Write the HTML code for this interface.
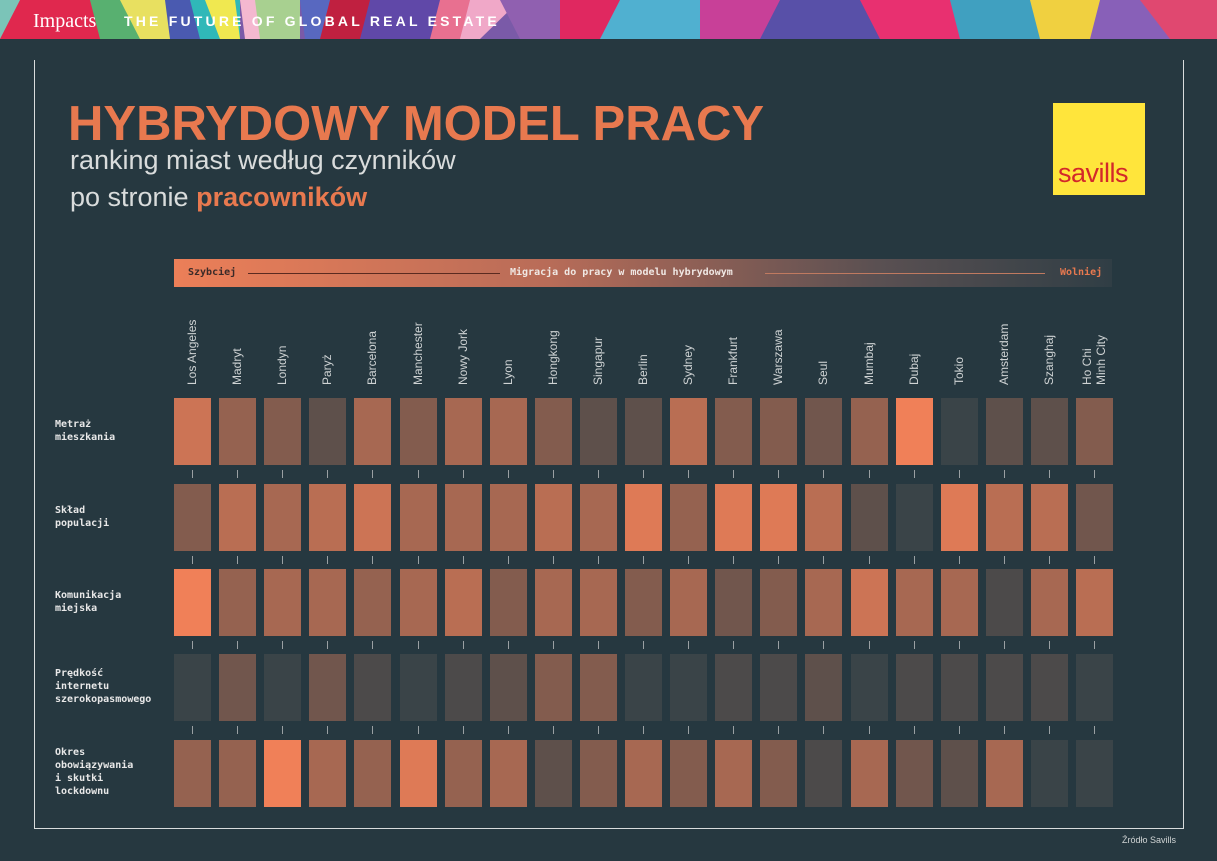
<!DOCTYPE html>
<html><head><meta charset="utf-8"><style>
*{margin:0;padding:0;box-sizing:border-box}
body{width:1217px;height:861px;background:#263840;position:relative;overflow:hidden;font-family:"Liberation Sans",sans-serif}
.abs{position:absolute}
.title{left:68px;top:96px;font-size:49px;font-weight:bold;color:#e8794f;letter-spacing:0px;white-space:nowrap;transform:scaleX(1.0);transform-origin:left}
.sub{left:70px;font-size:27px;color:#d9dcdc;white-space:nowrap}
.rl{left:55px;font-size:10px;font-weight:bold;color:#e8e8e8;line-height:13px;font-family:"DejaVu Sans Mono","Liberation Mono",monospace}
.city{font-size:12px;color:#cfd3d4;white-space:nowrap;transform:rotate(-90deg);transform-origin:left top}
.cell{position:absolute;width:37px;height:67px}
.tick{position:absolute;width:1px;height:8px;background:#9aa0a3}
</style></head><body>
<svg class="abs" style="left:0;top:0" width="1217" height="39">
<rect width="1217" height="39" fill="#7a5aa8"/>
<polygon points="0,0 60,0 40,39 0,39" fill="#7bc4b8"/>
<polygon points="20,0 120,0 110,39 0,39" fill="#e0284e"/>
<polygon points="90,0 130,0 150,39 100,39" fill="#58b070"/>
<polygon points="120,0 170,0 180,39 140,39" fill="#e8e060"/>
<polygon points="165,0 200,0 210,39 170,39" fill="#4a5ab0"/>
<polygon points="190,0 240,0 240,39 200,39" fill="#30b8b8"/>
<polygon points="205,0 235,0 240,39 220,39" fill="#f0e850"/>
<polygon points="240,0 300,0 300,39 245,39" fill="#f4b8d0"/>
<polygon points="255,0 300,0 300,39 260,39" fill="#a8d090"/>
<polygon points="300,0 350,0 345,39 305,39" fill="#5868c0"/>
<polygon points="330,0 380,0 360,39 320,39" fill="#c02040"/>
<polygon points="370,0 470,0 460,39 360,39" fill="#6048a8"/>
<polygon points="440,0 480,0 480,39 430,39" fill="#e87090"/>
<polygon points="470,0 520,0 480,39 460,39" fill="#f0a8c8"/>
<polygon points="500,0 560,0 560,39 520,39" fill="#9060b0"/>
<polygon points="560,0 640,0 620,39 560,39" fill="#e02860"/>
<polygon points="620,0 700,0 700,39 600,39" fill="#50b0d0"/>
<polygon points="700,0 800,0 780,39 700,39" fill="#c84098"/>
<polygon points="780,0 880,0 900,39 760,39" fill="#5850a8"/>
<polygon points="860,0 960,0 980,39 880,39" fill="#e83070"/>
<polygon points="950,0 1040,0 1060,39 960,39" fill="#40a0c0"/>
<polygon points="1030,0 1120,0 1100,39 1040,39" fill="#f0d040"/>
<polygon points="1100,0 1217,0 1217,39 1090,39" fill="#8860b8"/>
<polygon points="1140,0 1217,0 1217,39 1170,39" fill="#e04870"/>
<text x="33" y="27" font-family="Liberation Serif" font-size="20" fill="#fff">Impacts</text>
<text x="124" y="26" font-family="Liberation Sans" font-weight="bold" font-size="14" letter-spacing="3.2" fill="#fff">THE FUTURE OF GLOBAL REAL ESTATE</text>
</svg>
<div class="abs" style="left:34px;top:60px;width:1150px;height:769px;border:1.5px solid #d8dcdc;border-top:none"></div>
<div class="abs title">HYBRYDOWY MODEL PRACY</div>
<div class="abs sub" style="top:145px">ranking miast według czynników</div>
<div class="abs sub" style="top:182px">po stronie <b style="color:#e8794f">pracowników</b></div>
<div class="abs" style="left:1053px;top:103px;width:92px;height:92px;background:#ffe53b"></div>
<div class="abs" style="left:1058px;top:158px;font-size:27px;color:#d3282a;letter-spacing:-0.5px">savills</div>
<div class="abs" style="left:174px;top:259px;width:938px;height:28px;background:linear-gradient(90deg,#ec7f58 0%,#b86c58 40%,#5a5052 75%,#303e45 100%)"></div>
<div class="abs" style="left:188px;top:267px;font-size:10px;font-weight:bold;color:#3a2a28;font-family:'DejaVu Sans Mono',monospace">Szybciej</div>
<div class="abs" style="left:248px;top:273px;width:252px;height:1px;background:#5a2a20"></div>
<div class="abs" style="left:510px;top:267px;font-size:10px;font-weight:bold;color:#f0e8e4;font-family:'DejaVu Sans Mono',monospace">Migracja do pracy w modelu hybrydowym</div>
<div class="abs" style="left:765px;top:273px;width:280px;height:1px;background:#c07a60"></div>
<div class="abs" style="left:1060px;top:267px;font-size:10px;font-weight:bold;color:#e8794f;font-family:'DejaVu Sans Mono',monospace">Wolniej</div>
<div class="abs rl" style="top:418px">Metraż<br>mieszkania</div>
<div class="abs rl" style="top:504px">Skład<br>populacji</div>
<div class="abs rl" style="top:589px">Komunikacja<br>miejska</div>
<div class="abs rl" style="top:667px">Prędkość<br>internetu<br>szerokopasmowego</div>
<div class="abs rl" style="top:746px">Okres<br>obowiązywania<br>i skutki<br>lockdownu</div>
<div class="abs" style="left:1122px;top:835px;font-size:9px;color:#d0d4d4">Źródło Savills</div>
<div id="g"></div>
<script>
var cities=["Los Angeles","Madryt","Londyn","Paryż","Barcelona","Manchester","Nowy Jork","Lyon","Hongkong","Singapur","Berlin","Sydney","Frankfurt","Warszawa","Seul","Mumbaj","Dubaj","Tokio","Amsterdam","Szanghaj","Ho Chi|Minh City"];
var L=[
[4,2.5,2,1,3,2,3,3,2,1,1,3.5,2,2,1.5,2.5,5,0,1,1,2],
[2,3.5,3,3.5,4,3,3,3,3.5,3,4.5,2.5,4.5,4.5,3.5,1,0,4.5,3.5,3.5,1.5],
[5,2.5,3,3,2.5,3,3.5,2,3,3,2,3,1.5,2,3,4,3,3,0.5,3,3.5],
[0,1.5,0,1.5,0.5,0,0.5,1,2,2,0,0,0.5,0.5,1,0,0.5,0.5,0.5,0.5,0],
[2.5,2.5,5,3,2.5,4.5,2.5,3,1,2,3,2,3,2,0.5,3,1.5,1,3,0,0]];
var a=[0x3a,0x44,0x48],b=[0xf0,0x80,0x58];
function col(l){var t=l/5;return "rgb("+a.map(function(v,i){return Math.round(v+(b[i]-v)*t)}).join(",")+")";}
var h="",tops=[398,484,569,654,740];
for(var c=0;c<21;c++){var x=174+c*45.1;
 var nm=cities[c].split("|");
 if(nm.length==1)h+='<div class="abs city" style="left:'+(x+11)+'px;top:385px">'+nm[0]+'</div>';
 else{h+='<div class="abs city" style="left:'+(x+4)+'px;top:385px">'+nm[0]+'</div><div class="abs city" style="left:'+(x+18)+'px;top:385px">'+nm[1]+'</div>';}
 for(var r=0;r<5;r++){h+='<div class="cell" style="left:'+x+'px;top:'+tops[r]+'px;background:'+col(L[r][c])+'"></div>';
  if(r<4)h+='<div class="tick" style="left:'+(x+18)+'px;top:'+(tops[r]+72)+'px"></div>';}
}
document.getElementById("g").innerHTML=h;
</script>
</body></html>
